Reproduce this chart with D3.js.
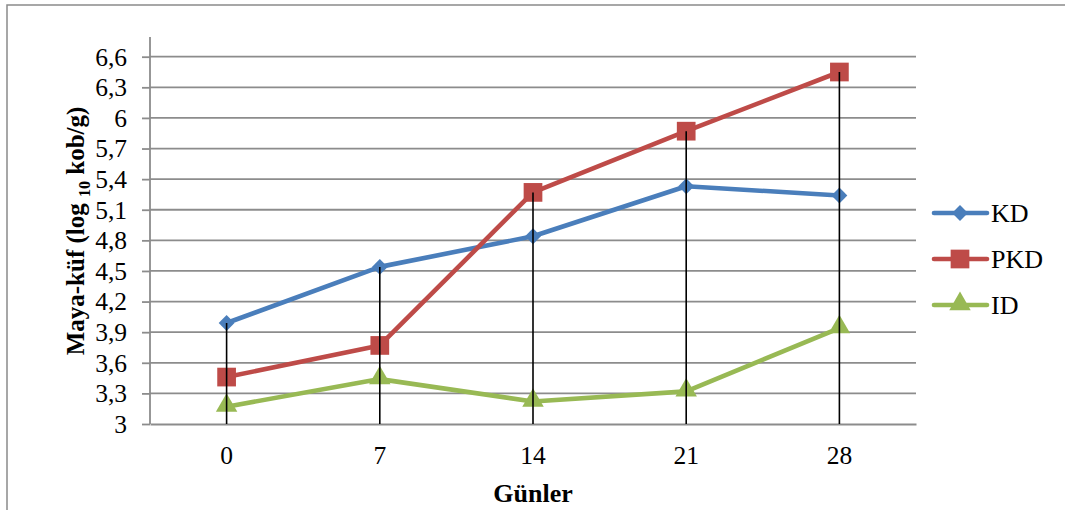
<!DOCTYPE html>
<html>
<head>
<meta charset="utf-8">
<script src="https://cdn.jsdelivr.net/npm/d3@7"></script>
<style>
  html, body { margin: 0; padding: 0; background: #fff; }
  svg { display: block; }
  text { font-family: "Liberation Serif", "Times New Roman", serif; fill: #000; }
</style>
</head>
<body>
<svg id="chart" width="1065" height="510"></svg>
<script>
// Days of storage
const days = ["0", "7", "14", "21", "28"];
// Yeast-mould counts (log10 cfu/g)
const kdValues  = [3.99, 4.54, 4.84, 5.33, 5.24];
const pkdValues = [3.46, 3.77, 5.27, 5.87, 6.45];
const idValues  = [3.17, 3.44, 3.22, 3.32, 3.94];
const yTicks = [3, 3.3, 3.6, 3.9, 4.2, 4.5, 4.8, 5.1, 5.4, 5.7, 6, 6.3, 6.6];
const seriesNames = ["KD", "PKD", "ID"];

const series = [
  { name: seriesNames[0], values: kdValues,  color: "#4A7EBB", marker: "diamond" },
  { name: seriesNames[1], values: pkdValues, color: "#BE4B48", marker: "square" },
  { name: seriesNames[2], values: idValues,  color: "#98B954", marker: "triangle" }
];

const svg = d3.select("#chart");
const plot = { left: 150, right: 916, top: 56.7, bottom: 424 };

// outer chart frame
svg.append("rect")
  .attr("x", 7).attr("y", 5).attr("width", 1100).attr("height", 560)
  .attr("fill", "none").attr("stroke", "#8a8a8a").attr("stroke-width", 1.5);

const x = d3.scaleBand().domain(days).range([plot.left, plot.right]);
const y = d3.scaleLinear().domain([3, 6.6]).range([plot.bottom, plot.top]);
const fmt = d => String(d).replace(".", ",");

// horizontal gridlines
svg.append("g").selectAll("line").data(yTicks.slice(1)).join("line")
  .attr("x1", plot.left).attr("x2", plot.right)
  .attr("y1", d => y(d)).attr("y2", d => y(d))
  .attr("stroke", "#8c8c8c").attr("stroke-width", 1.8);

// y axis
const yAxis = svg.append("g").attr("transform", `translate(${plot.left},0)`)
  .call(d3.axisLeft(y).tickValues(yTicks).tickFormat(fmt).tickSize(8).tickPadding(15));
yAxis.select(".domain").remove();
yAxis.selectAll(".tick line").attr("stroke", "#8c8c8c").attr("stroke-width", 1.8);
yAxis.selectAll(".tick text").attr("font-size", 25.5).attr("dy", "0.33em")
  .attr("font-family", "Liberation Serif");
svg.append("line")
  .attr("x1", plot.left).attr("x2", plot.left).attr("y1", 37).attr("y2", plot.bottom)
  .attr("stroke", "#8c8c8c").attr("stroke-width", 1.8);

// x axis
const xAxis = svg.append("g").attr("transform", `translate(0,${plot.bottom})`)
  .call(d3.axisBottom(x).tickSize(0).tickPadding(22));
xAxis.select(".domain").attr("stroke", "#8c8c8c").attr("stroke-width", 1.8);
xAxis.selectAll(".tick text").attr("font-size", 25.5)
  .attr("font-family", "Liberation Serif");

const cx = d => x(d) + x.bandwidth() / 2;

const symbolFor = m => {
  if (m === "diamond") return d3.symbol().type(d3.symbolDiamond2).size(160)();
  if (m === "square") return d3.symbol().type(d3.symbolSquare).size(350)();
  return d3.symbol().type(d3.symbolTriangle).size(200)();
};

const line = d3.line().x((v, i) => cx(days[i])).y(v => y(v));

// series lines and markers
series.forEach(s => {
  const g = svg.append("g");
  g.append("path").datum(s.values).attr("d", line)
    .attr("fill", "none").attr("stroke", s.color).attr("stroke-width", 4.6)
    .attr("stroke-linejoin", "round");
  g.selectAll("path.m").data(s.values).join("path").attr("class", "m")
    .attr("d", symbolFor(s.marker))
    .attr("transform", (v, i) => `translate(${cx(days[i])},${y(v) + (s.marker === "triangle" ? -1 : 0)})`)
    .attr("fill", s.color);
});

// drop lines from the highest point of each day down to the category axis
svg.append("g").selectAll("line").data(days).join("line")
  .attr("x1", d => cx(d)).attr("x2", d => cx(d))
  .attr("y1", (d, i) => y(d3.max(series, s => s.values[i])))
  .attr("y2", plot.bottom)
  .attr("stroke", "#000").attr("stroke-width", 1.6);

// legend
const legend = svg.append("g");
const legendY = [213, 259, 305];
series.forEach((s, i) => {
  const g = legend.append("g").attr("transform", `translate(0,${legendY[i]})`);
  g.append("line").attr("x1", 934).attr("x2", 987).attr("y1", 0).attr("y2", 0)
    .attr("stroke", s.color).attr("stroke-width", 4.6).attr("stroke-linecap", "round");
  g.append("path").attr("d", symbolFor(s.marker))
    .attr("transform", `translate(960,${s.marker === "triangle" ? -1 : 0})`).attr("fill", s.color);
  g.append("text").attr("x", 991).attr("y", 0).attr("dy", "0.34em")
    .attr("font-size", 26).text(s.name);
});

// axis titles
svg.append("text")
  .attr("transform", "translate(84,231) rotate(-90)")
  .attr("text-anchor", "middle")
  .attr("font-size", 25).attr("font-weight", "bold")
  .call(t => {
    t.append("tspan").text("Maya-küf (log ");
    t.append("tspan").attr("dy", 6).attr("font-size", 16).text("10");
    t.append("tspan").attr("dy", -6).text(" kob/g)");
  });

svg.append("text")
  .attr("x", cx("14")).attr("y", 502)
  .attr("text-anchor", "middle")
  .attr("font-size", 26).attr("font-weight", "bold")
  .text("Günler");
</script>
</body>
</html>
